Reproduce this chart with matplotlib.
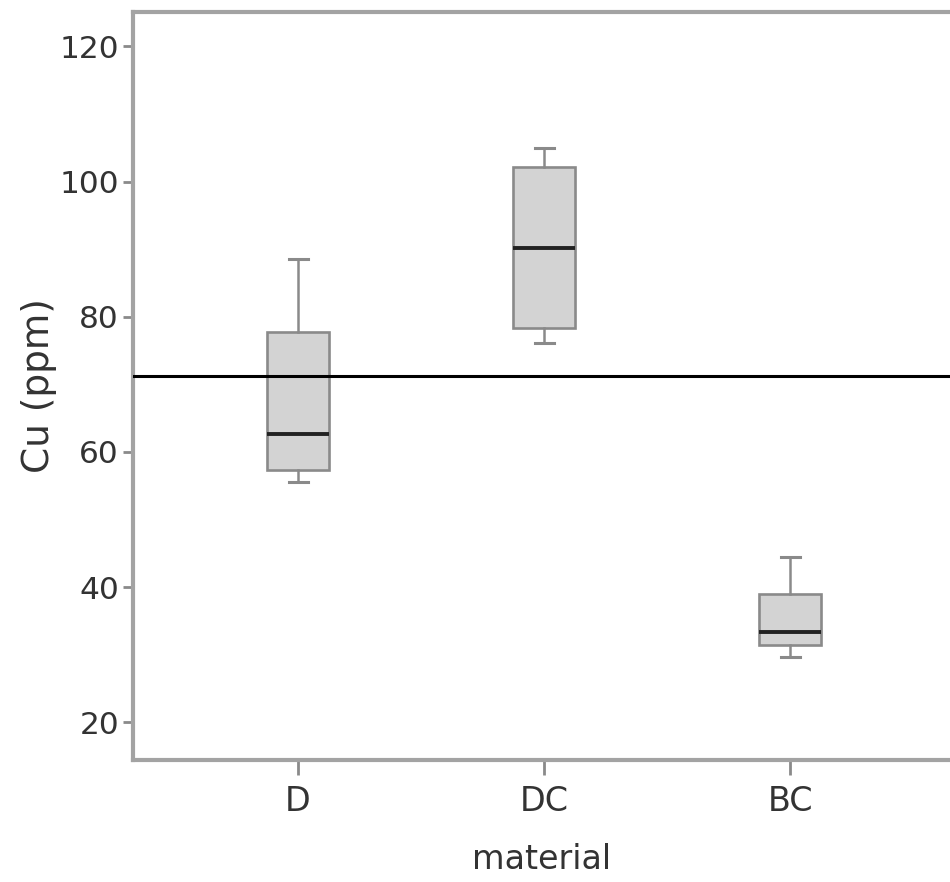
import matplotlib
matplotlib.use("Agg")
import matplotlib.pyplot as plt

# ---- data ----
categories = ["D", "DC", "BC"]
whisker_low = [55.5, 76.1, 29.7]
q1_values = [57.3, 78.4, 31.4]
medians = [62.7, 90.1, 33.4]
q3_values = [77.8, 102.1, 39.0]
whisker_high = [88.6, 105.0, 44.4]
reference_value = 71.3
y_ticks = [20, 40, 60, 80, 100, 120]

plt.rcParams['font.family'] = ['DejaVu Sans']

fig = plt.figure(figsize=(9.5, 8.82), dpi=100)
ax = fig.add_axes([133 / 950, 1 - 760 / 882, (950 - 133) / 950, (760 - 12) / 882])

stats = []
for name, lo, a, m, b, hi in zip(categories, whisker_low, q1_values, medians, q3_values, whisker_high):
    stats.append(dict(label=name, whislo=lo, q1=a, med=m, q3=b, whishi=hi, fliers=[]))

positions = list(range(1, len(categories) + 1))
edge = "#8a8a8a"
ax.bxp(stats, positions=positions, widths=0.25, capwidths=0.077,
       patch_artist=True, showfliers=False,
       boxprops=dict(facecolor="#d3d3d3", edgecolor=edge, linewidth=1.9),
       medianprops=dict(color="#222222", linewidth=2.8),
       whiskerprops=dict(color=edge, linewidth=1.8),
       capprops=dict(color=edge, linewidth=2.2))

ax.axhline(reference_value, color="black", linewidth=2.2, zorder=5)

ax.set_xlim(0.329, 3.65)
ax.set_ylim(14.4, 125.1)
ax.set_yticks(y_ticks)
ax.set_yticklabels([str(v) for v in y_ticks])
ax.set_xticks(positions)
ax.set_xticklabels(categories)

for side in ["left", "bottom", "top"]:
    ax.spines[side].set_color("#a3a3a3")
    ax.spines[side].set_linewidth(3)
ax.spines["right"].set_visible(False)

ax.tick_params(axis="y", length=7, width=2, color="#8a8a8a", labelsize=22.5,
               labelcolor="#333333", pad=3)
ax.tick_params(axis="x", length=11, width=2, color="#8a8a8a", labelsize=24,
               labelcolor="#333333", pad=7)

ax.set_ylabel("Cu (ppm)", fontsize=27, color="#333333", labelpad=2)
ax.set_xlabel("material", fontsize=24, color="#333333", labelpad=18)

fig.savefig("out.png", dpi=100)
